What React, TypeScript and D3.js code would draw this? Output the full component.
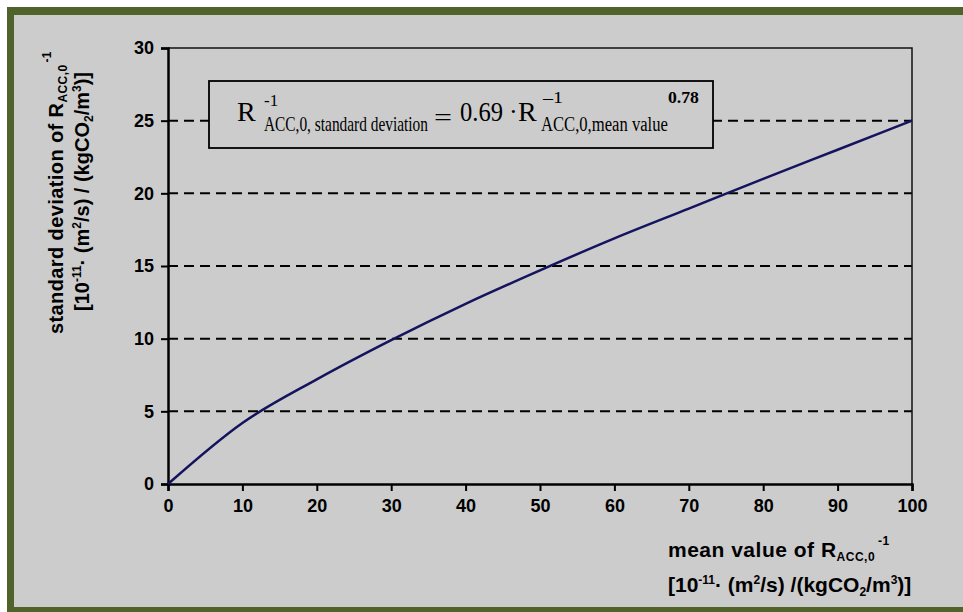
import React, { useEffect, useRef } from "react";
import * as d3 from "d3";

// values
const meanValues = [0, 10, 20, 30, 40, 50, 60, 70, 80, 90, 100];
const stdValues = [0, 4.2, 7.2, 9.9, 12.4, 14.7, 16.9, 18.95, 21.0, 23.0, 25.0];
const xTicks = [0, 10, 20, 30, 40, 50, 60, 70, 80, 90, 100];
const yTicks = [0, 5, 10, 15, 20, 25, 30];
const gridLines = [5, 10, 15, 20, 25];

const W = 963;
const H = 612;

const App = () => {
	const svgRef = useRef<SVGSVGElement>(null);

	useEffect(() => {
		const svg = d3.select(svgRef.current);
		svg.selectAll("*").remove();

		const margin = { top: 48, left: 168, right: 912, bottom: 484 };
		const x = d3.scaleLinear().domain([0, 100]).range([margin.left, margin.right]);
		const y = d3.scaleLinear().domain([0, 30]).range([margin.bottom, margin.top]);

		// page frame
		svg.append("rect").attr("x", 0).attr("y", 0).attr("width", W).attr("height", H).attr("fill", "#ffffff");
		svg.append("rect").attr("x", 7).attr("y", 7).attr("width", 1000).attr("height", 700).attr("fill", "#50632a");
		svg.append("rect").attr("x", 14).attr("y", 15).attr("width", 1000).attr("height", 592).attr("fill", "#cccccc");

		// dashed grid
		svg
			.append("g")
			.selectAll("line")
			.data(gridLines)
			.enter()
			.append("line")
			.attr("x1", x(0))
			.attr("x2", x(100))
			.attr("y1", (d) => y(d))
			.attr("y2", (d) => y(d))
			.attr("stroke", "#000")
			.attr("stroke-width", 2)
			.attr("stroke-dasharray", "10,6");

		// top and right frame of plot
		svg
			.append("path")
			.attr("d", `M${x(0)},${y(30)}H${x(100)}V${y(0)}`)
			.attr("fill", "none")
			.attr("stroke", "#111")
			.attr("stroke-width", 1.5);

		const tickFont = "Liberation Sans, Arial, sans-serif";

		// x axis
		const xAxis = d3.axisBottom(x).tickValues(xTicks).tickSize(7).tickPadding(8);
		const gx = svg.append("g").attr("transform", `translate(0,${y(0)})`).call(xAxis);
		gx.select(".domain").attr("stroke", "#000").attr("stroke-width", 2.5);
		gx.selectAll(".tick line").attr("stroke", "#000").attr("stroke-width", 2);
		gx.selectAll(".tick text")
			.attr("font-family", tickFont)
			.attr("font-weight", "bold")
			.attr("font-size", 18)
			.attr("fill", "#000");

		// y axis
		const yAxis = d3.axisLeft(y).tickValues(yTicks).tickSize(7).tickPadding(7);
		const gy = svg.append("g").attr("transform", `translate(${x(0)},0)`).call(yAxis);
		gy.select(".domain").attr("stroke", "#000").attr("stroke-width", 2.5);
		gy.selectAll(".tick line").attr("stroke", "#000").attr("stroke-width", 2);
		gy.selectAll(".tick text")
			.attr("font-family", tickFont)
			.attr("font-weight", "bold")
			.attr("font-size", 18)
			.attr("fill", "#000");

		// curve
		const pts = meanValues.map((m, i) => [m, stdValues[i]]);
		const line = d3
			.line()
			.x((d) => x(d[0]))
			.y((d) => y(d[1]))
			.curve(d3.curveMonotoneX);
		svg
			.append("path")
			.datum(pts)
			.attr("d", line)
			.attr("fill", "none")
			.attr("stroke", "#14145e")
			.attr("stroke-width", 2.5);

		// equation box
		svg
			.append("rect")
			.attr("x", 209)
			.attr("y", 81)
			.attr("width", 504)
			.attr("height", 67)
			.attr("fill", "#cccccc")
			.attr("stroke", "#000")
			.attr("stroke-width", 1.8);

		const serif = "Liberation Serif, Times New Roman, serif";
		const eq = svg.append("g").attr("font-family", serif).attr("fill", "#000");
		// condensed pieces are squeezed with a horizontal scale so their boxes stay honest
		const put = (txt, px, py, size, len?) => {
			const t = eq.append("text").attr("font-size", size).text(txt);
			let sx = 1;
			if (len) {
				const natural = (t.node() as SVGTextElement).getComputedTextLength();
				if (natural > 0) sx = len / natural;
			}
			t.attr("transform", `translate(${px},${py}) scale(${sx},1)`);
			return t;
		};
		put("R", 237, 121, 28);
		put("-1", 264, 106, 17);
		put("ACC,0, standard deviation", 264, 131, 20, 164);
		put("=", 434, 125, 24, 18);
		put("0.69", 460, 121, 28, 43);
		put("·", 509, 120, 26);
		put("R", 518, 121, 28);
		put("\u20131", 543, 103, 17, 20);
		put("ACC,0,mean value", 541, 131, 20, 127);
		put("0.78", 668, 103, 16, 31).attr("font-weight", "bold");

		// axis titles
		const sans = "Liberation Sans, Arial, sans-serif";
		const titleSize = 20;
		const small = 12;
		const yTitle = svg
			.append("text")
			.attr("transform", "translate(63,334) rotate(-90)")
			.attr("font-family", sans)
			.attr("font-weight", "bold")
			.attr("font-size", titleSize)
			.attr("letter-spacing", 0.4)
			.attr("fill", "#000");
		yTitle.append("tspan").text("standard deviation of R");
		yTitle.append("tspan").attr("font-size", small).attr("dy", 4).text("ACC,0");
		yTitle.append("tspan").attr("font-size", small).attr("dy", -16).attr("dx", 2).text("-1");

		const yTitle2 = svg
			.append("text")
			.attr("transform", "translate(89,311) rotate(-90)")
			.attr("font-family", sans)
			.attr("font-weight", "bold")
			.attr("font-size", titleSize)
			.attr("fill", "#000");
		yTitle2.append("tspan").text("[10");
		yTitle2.append("tspan").attr("font-size", small).attr("dy", -8).text("-11");
		yTitle2.append("tspan").attr("dy", 8).text("· (m");
		yTitle2.append("tspan").attr("font-size", small).attr("dy", -8).text("2");
		yTitle2.append("tspan").attr("dy", 8).text("/s) / (kgCO");
		yTitle2.append("tspan").attr("font-size", small).attr("dy", 4).text("2");
		yTitle2.append("tspan").attr("dy", -4).text("/m");
		yTitle2.append("tspan").attr("font-size", small).attr("dy", -8).text("3");
		yTitle2.append("tspan").attr("dy", 8).text(")]");

		const xTitle = svg
			.append("text")
			.attr("x", 668)
			.attr("y", 557)
			.attr("font-family", sans)
			.attr("font-weight", "bold")
			.attr("font-size", 21)
			.attr("letter-spacing", 0.5)
			.attr("fill", "#000");
		xTitle.append("tspan").text("mean value of R");
		xTitle.append("tspan").attr("font-size", small).attr("dy", 4).text("ACC,0");
		xTitle.append("tspan").attr("font-size", small).attr("dy", -16).attr("dx", 3).text("-1");

		const xTitle2 = svg
			.append("text")
			.attr("x", 668)
			.attr("y", 592)
			.attr("font-family", sans)
			.attr("font-weight", "bold")
			.attr("font-size", 21)
			.attr("fill", "#000");
		xTitle2.append("tspan").text("[10");
		xTitle2.append("tspan").attr("font-size", small).attr("dy", -8).text("-11");
		xTitle2.append("tspan").attr("dy", 8).text("· (m");
		xTitle2.append("tspan").attr("font-size", small).attr("dy", -8).text("2");
		xTitle2.append("tspan").attr("dy", 8).text("/s) /(kgCO");
		xTitle2.append("tspan").attr("font-size", small).attr("dy", 4).text("2");
		xTitle2.append("tspan").attr("dy", -4).text("/m");
		xTitle2.append("tspan").attr("font-size", small).attr("dy", -8).text("3");
		xTitle2.append("tspan").attr("dy", 8).text(")]");
	}, []);

	return (
		<svg
			ref={svgRef}
			width={W}
			height={H}
			style={{ position: "absolute", left: 0, top: 0, display: "block" }}
		></svg>
	);
};

export default App;
